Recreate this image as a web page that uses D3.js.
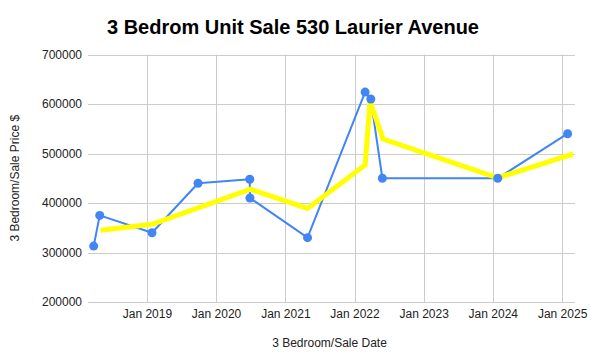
<!DOCTYPE html>
<html>
<head>
<meta charset="utf-8">
<script src="https://cdn.jsdelivr.net/npm/d3@7"></script>
<style>
  html, body { margin: 0; padding: 0; background: #fff; }
  svg { display: block; font-family: Arial, "Liberation Sans", sans-serif; }
</style>
</head>
<body>
<svg id="chart" width="591" height="363"></svg>
<script>
// ---- data ----
const saleDates = ["2018-03-26","2018-04-27","2019-01-28","2019-09-28","2020-06-27","2020-06-28","2021-04-28","2022-02-26","2022-03-28","2022-05-28","2024-01-27","2025-01-30"];
const salePrices = [313000, 375000, 340000, 440000, 448000, 410000, 330000, 624000, 610000, 450000, 450000, 540000];
const avgDates = ["2018-05-02","2019-01-28","2020-07-01","2021-04-28","2022-02-26","2022-03-24","2022-06-01","2024-01-27","2025-02-28"];
const avgPrices = [345000, 357000, 428000, 389000, 477000, 605000, 529000, 451000, 499000];
const yTicks = [200000, 300000, 400000, 500000, 600000, 700000];
const xTickYears = [2019, 2020, 2021, 2022, 2023, 2024, 2025];
const titleText = "3 Bedrom Unit Sale 530 Laurier Avenue";
const xTitle = "3 Bedroom/Sale Date";
const yTitle = "3 Bedroom/Sale Price $";

(function () {
// ---- layout ----
const svg = d3.select("#chart");
const pL = 88, pR = 575, pT = 54.5, pB = 302;
const parse = d3.timeParse("%Y-%m-%d");

const x = d3.scaleTime()
  .domain([parse("2018-02-24"), parse("2025-03-10")])
  .range([pL, pR]);
const y = d3.scaleLinear().domain([200000, 700000]).range([pB, pT]);

const xTicks = xTickYears.map(yr => new Date(yr, 0, 1));

// gridlines
const grid = svg.append("g");
grid.selectAll("line.h").data(yTicks).join("line")
  .attr("x1", pL).attr("x2", pR)
  .attr("y1", d => Math.round(y(d)) + 0.5).attr("y2", d => Math.round(y(d)) + 0.5)
  .attr("stroke", "#cccccc").attr("stroke-width", 1);
grid.selectAll("line.v").data(xTicks).join("line")
  .attr("x1", d => Math.round(x(d)) + 0.5).attr("x2", d => Math.round(x(d)) + 0.5)
  .attr("y1", pT).attr("y2", pB)
  .attr("stroke", "#cccccc").attr("stroke-width", 1);

// axes via d3 axes (labels only)
const yAxis = d3.axisLeft(y).tickValues(yTicks).tickSize(0).tickPadding(6).tickFormat(d3.format("d"));
const gy = svg.append("g").attr("transform", `translate(${pL},0)`).call(yAxis);
gy.select(".domain").remove();
gy.selectAll("text").attr("font-size", 12).attr("fill", "#222").attr("font-family", "Arial, 'Liberation Sans', sans-serif");

const xAxis = d3.axisBottom(x).tickValues(xTicks).tickSize(0).tickPadding(7).tickFormat(d3.timeFormat("Jan %Y"));
const gx = svg.append("g").attr("transform", `translate(0,${pB})`).call(xAxis);
gx.select(".domain").remove();
gx.selectAll("text").attr("font-size", 12).attr("fill", "#222").attr("font-family", "Arial, 'Liberation Sans', sans-serif");

// series
const sale = saleDates.map((d, i) => ({ date: parse(d), v: salePrices[i] }));
const avg = avgDates.map((d, i) => ({ date: parse(d), v: avgPrices[i] }));
const line = d3.line().x(d => x(d.date)).y(d => y(d.v));

svg.append("path").datum(sale).attr("d", line)
  .attr("fill", "none").attr("stroke", "#4285f4").attr("stroke-width", 2)
  .attr("stroke-linejoin", "round");
svg.append("path").datum(avg).attr("d", line)
  .attr("fill", "none").attr("stroke", "#ffff00").attr("stroke-width", 5)
  .attr("stroke-linejoin", "miter");
svg.selectAll("circle.pt").data(sale).join("circle")
  .attr("cx", d => x(d.date)).attr("cy", d => y(d.v)).attr("r", 4.5)
  .attr("fill", "#4285f4");

// titles
svg.append("text").attr("x", 107).attr("y", 33.5)
  .attr("font-size", 20).attr("font-weight", "bold").attr("fill", "#000")
  .text(titleText);
svg.append("text").attr("x", (pL + pR) / 2 - 2).attr("y", 347)
  .attr("text-anchor", "middle").attr("font-size", 12).attr("fill", "#222")
  .text(xTitle);
svg.append("text")
  .attr("transform", `translate(19,${(pT + pB) / 2}) rotate(-90)`)
  .attr("text-anchor", "middle").attr("font-size", 12).attr("fill", "#222")
  .text(yTitle);
})();
</script>
</body>
</html>
